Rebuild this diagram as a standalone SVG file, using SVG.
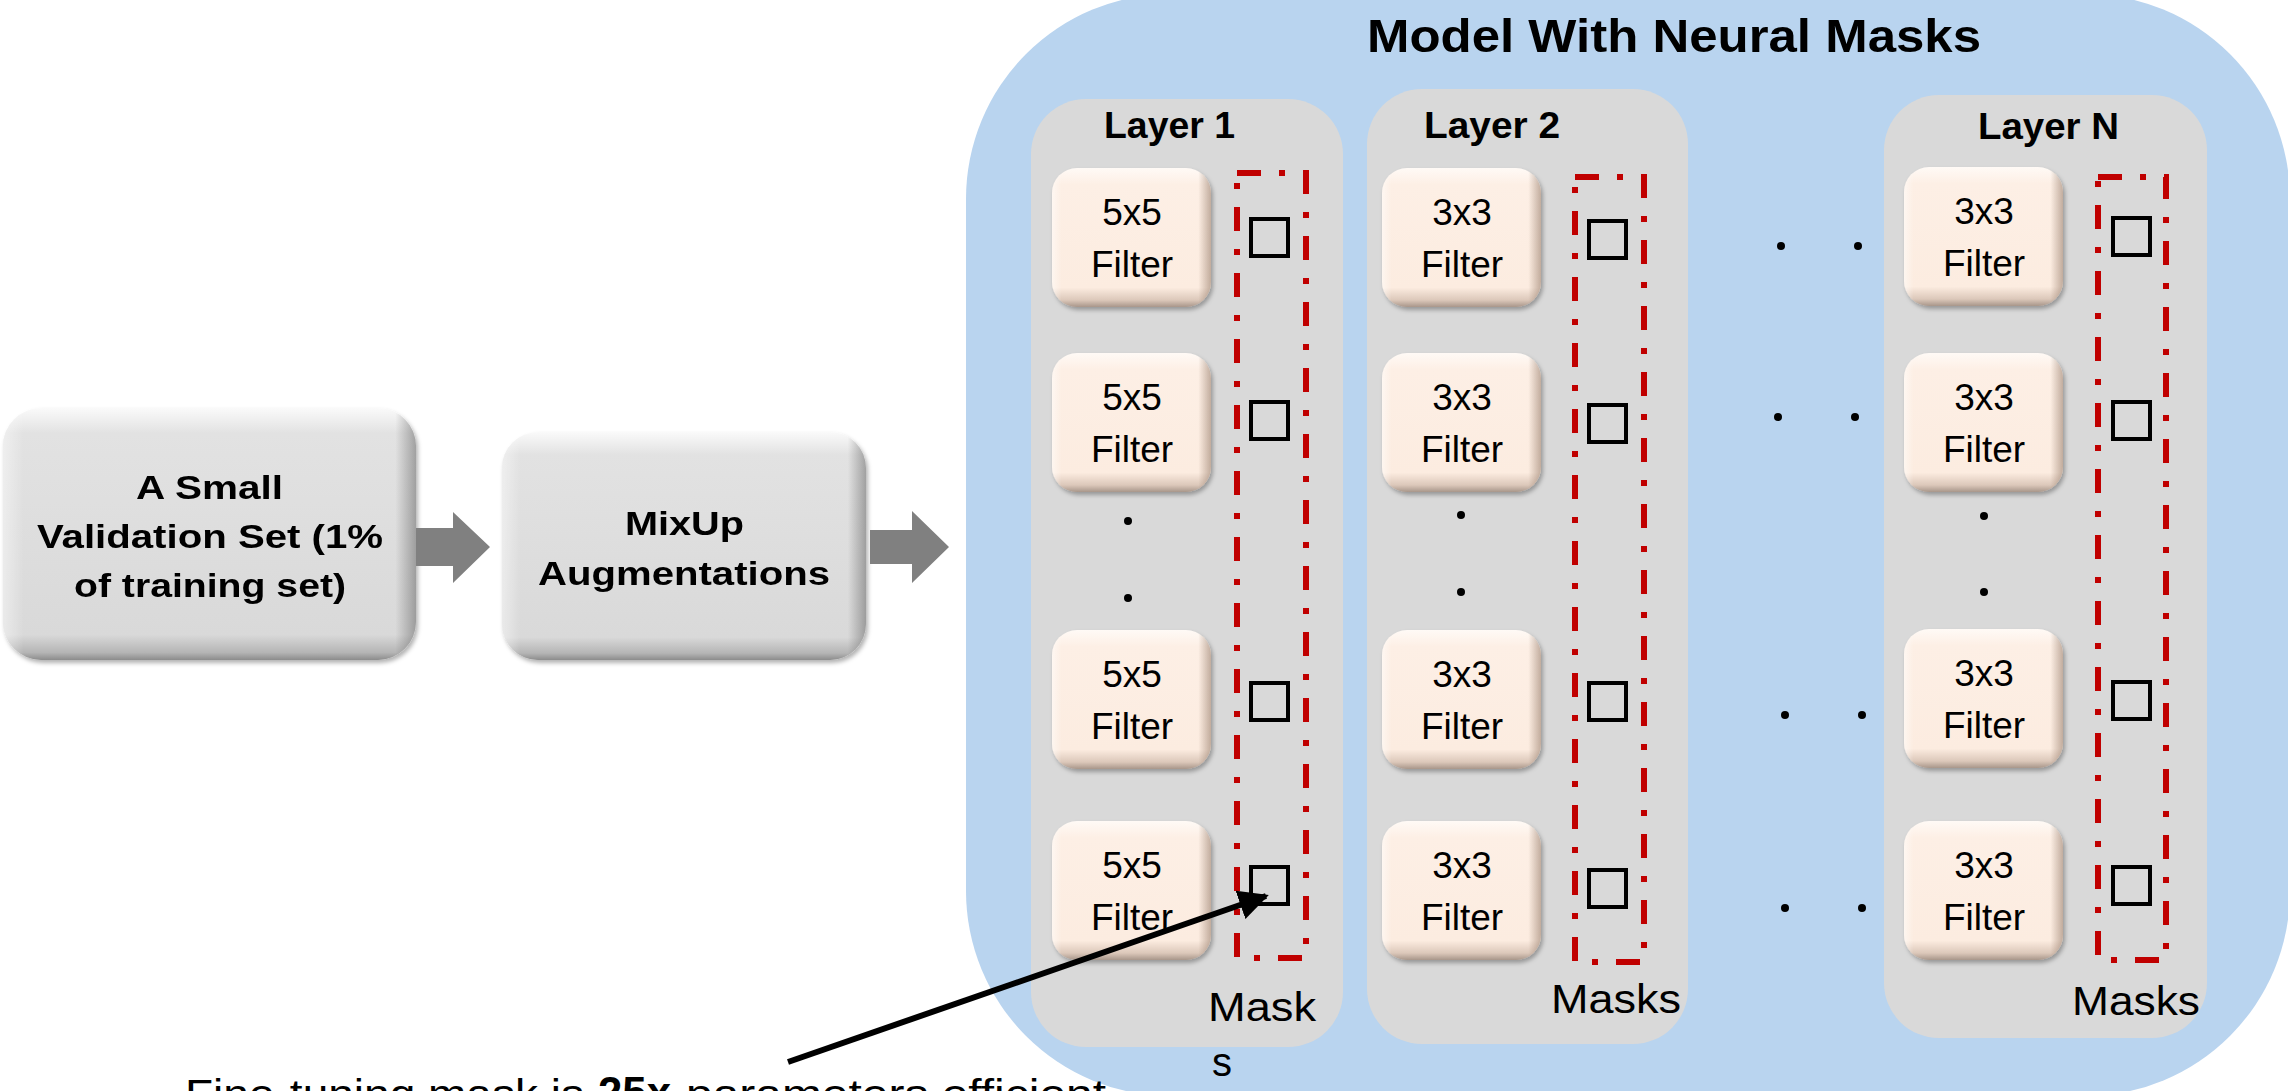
<svg xmlns="http://www.w3.org/2000/svg" width="2288" height="1091" viewBox="0 0 2288 1091">
  <style>
    .hdr { font-family: "Liberation Sans", Arial, sans-serif; font-weight: bold; fill: #000; }
    .lbl { font-family: "Liberation Sans", Arial, sans-serif; fill: #000; }
    .panel { fill: #d9d9d9; }
    .maskcol { fill: none; stroke: #c00000; stroke-width: 6; stroke-dasharray: 24 18 6 18; }
    .sq { fill: none; stroke: #000; stroke-width: 4; }
    .dot { fill: #000; }
    .flow { fill: #808080; }
  </style>
  <defs>
    <linearGradient id="peachV" x1="0" y1="0" x2="0" y2="1">
      <stop offset="0" stop-color="#fffaf6"/>
      <stop offset="0.12" stop-color="#fdefe5"/>
      <stop offset="0.86" stop-color="#fcece0"/>
      <stop offset="0.95" stop-color="#dcc8ba"/>
      <stop offset="1" stop-color="#a8968a"/>
    </linearGradient>
    <linearGradient id="peachH" x1="0" y1="0" x2="1" y2="0">
      <stop offset="0" stop-color="#ffffff" stop-opacity="0.5"/>
      <stop offset="0.06" stop-color="#ffffff" stop-opacity="0"/>
      <stop offset="0.92" stop-color="#7a5c48" stop-opacity="0"/>
      <stop offset="1" stop-color="#7a5c48" stop-opacity="0.45"/>
    </linearGradient>
    <linearGradient id="greyV" x1="0" y1="0" x2="0" y2="1">
      <stop offset="0" stop-color="#fafafa"/>
      <stop offset="0.1" stop-color="#e2e2e2"/>
      <stop offset="0.9" stop-color="#d9d9d9"/>
      <stop offset="0.97" stop-color="#b5b5b5"/>
      <stop offset="1" stop-color="#8c8c8c"/>
    </linearGradient>
    <linearGradient id="greyH" x1="0" y1="0" x2="1" y2="0">
      <stop offset="0" stop-color="#ffffff" stop-opacity="0.45"/>
      <stop offset="0.05" stop-color="#ffffff" stop-opacity="0"/>
      <stop offset="0.95" stop-color="#404040" stop-opacity="0"/>
      <stop offset="1" stop-color="#404040" stop-opacity="0.4"/>
    </linearGradient>
    <filter id="lift" x="-10%" y="-10%" width="125%" height="125%">
      <feDropShadow dx="2" dy="3" stdDeviation="2" flood-color="#000" flood-opacity="0.3"/>
    </filter>
    <marker id="tip" viewBox="0 0 10 10" refX="9" refY="5" markerWidth="5" markerHeight="5" orient="auto" markerUnits="strokeWidth">
      <path d="M0,0 L10,5 L0,10 z" fill="#000"/>
    </marker>
  </defs>

  <!-- model container -->
  <g id="model">
    <rect x="966" y="-6" width="1324" height="1102" rx="205" ry="205" fill="#b9d4ef"/>
    <text class="hdr" x="1367" y="52" font-size="46" textLength="614" lengthAdjust="spacingAndGlyphs">Model With Neural Masks</text>
  </g>

  <!-- input set -->
  <g id="validation-set" filter="url(#lift)">
    <rect x="3" y="408" width="413" height="252" rx="38" fill="url(#greyV)"/>
    <rect x="3" y="408" width="413" height="252" rx="38" fill="url(#greyH)"/>
    <text class="hdr" font-size="34" x="136" y="499" textLength="147" lengthAdjust="spacingAndGlyphs">A Small</text>
    <text class="hdr" font-size="34" x="37" y="548" textLength="346" lengthAdjust="spacingAndGlyphs">Validation Set (1%</text>
    <text class="hdr" font-size="34" x="74" y="597" textLength="272" lengthAdjust="spacingAndGlyphs">of training set)</text>
  </g>

  <g id="mixup" filter="url(#lift)">
    <rect x="502" y="432" width="364" height="228" rx="36" fill="url(#greyV)"/>
    <rect x="502" y="432" width="364" height="228" rx="36" fill="url(#greyH)"/>
    <text class="hdr" font-size="34" x="625" y="535" textLength="119" lengthAdjust="spacingAndGlyphs">MixUp</text>
    <text class="hdr" font-size="34" x="538" y="585" textLength="292" lengthAdjust="spacingAndGlyphs">Augmentations</text>
  </g>

  <!-- layer 1 -->
  <g id="layer-1">
    <rect class="panel" x="1031" y="99" width="312" height="948" rx="55" ry="55"/>
    <text class="hdr" x="1104" y="138" font-size="37" textLength="131" lengthAdjust="spacingAndGlyphs">Layer 1</text>
    <g filter="url(#lift)">
      <rect x="1052" y="168" width="159" height="139" rx="25" fill="url(#peachV)"/>
      <rect x="1052" y="168" width="159" height="139" rx="25" fill="url(#peachH)"/>
      <rect x="1052" y="353" width="159" height="139" rx="25" fill="url(#peachV)"/>
      <rect x="1052" y="353" width="159" height="139" rx="25" fill="url(#peachH)"/>
      <rect x="1052" y="630" width="159" height="139" rx="25" fill="url(#peachV)"/>
      <rect x="1052" y="630" width="159" height="139" rx="25" fill="url(#peachH)"/>
      <rect x="1052" y="821" width="159" height="139" rx="25" fill="url(#peachV)"/>
      <rect x="1052" y="821" width="159" height="139" rx="25" fill="url(#peachH)"/>
    </g>
    <g class="lbl" font-size="37" text-anchor="middle">
      <text x="1132" y="225">5x5</text><text x="1132" y="277">Filter</text>
      <text x="1132" y="410">5x5</text><text x="1132" y="462">Filter</text>
      <text x="1132" y="687">5x5</text><text x="1132" y="739">Filter</text>
      <text x="1132" y="878">5x5</text><text x="1132" y="930">Filter</text>
    </g>
    <circle class="dot" cx="1128" cy="521" r="4"/>
    <circle class="dot" cx="1128" cy="598" r="4"/>
    <rect class="maskcol" x="1237" y="173" width="69" height="785"/>
    <rect class="sq" x="1251" y="219" width="37" height="37"/>
    <rect class="sq" x="1251" y="402" width="37" height="37"/>
    <rect class="sq" x="1251" y="683" width="37" height="37"/>
    <rect class="sq" x="1251" y="867" width="37" height="37"/>
    <text class="lbl" x="1208" y="1021" font-size="40" textLength="108" lengthAdjust="spacingAndGlyphs">Mask</text>
    <text class="lbl" x="1212" y="1076" font-size="40">s</text>
  </g>

  <!-- layer 2 -->
  <g id="layer-2">
    <rect class="panel" x="1367" y="89" width="321" height="955" rx="55" ry="55"/>
    <text class="hdr" x="1424" y="138" font-size="37" textLength="136" lengthAdjust="spacingAndGlyphs">Layer 2</text>
    <g filter="url(#lift)">
      <rect x="1382" y="168" width="159" height="139" rx="25" fill="url(#peachV)"/>
      <rect x="1382" y="168" width="159" height="139" rx="25" fill="url(#peachH)"/>
      <rect x="1382" y="353" width="159" height="139" rx="25" fill="url(#peachV)"/>
      <rect x="1382" y="353" width="159" height="139" rx="25" fill="url(#peachH)"/>
      <rect x="1382" y="630" width="159" height="139" rx="25" fill="url(#peachV)"/>
      <rect x="1382" y="630" width="159" height="139" rx="25" fill="url(#peachH)"/>
      <rect x="1382" y="821" width="159" height="139" rx="25" fill="url(#peachV)"/>
      <rect x="1382" y="821" width="159" height="139" rx="25" fill="url(#peachH)"/>
    </g>
    <g class="lbl" font-size="37" text-anchor="middle">
      <text x="1462" y="225">3x3</text><text x="1462" y="277">Filter</text>
      <text x="1462" y="410">3x3</text><text x="1462" y="462">Filter</text>
      <text x="1462" y="687">3x3</text><text x="1462" y="739">Filter</text>
      <text x="1462" y="878">3x3</text><text x="1462" y="930">Filter</text>
    </g>
    <circle class="dot" cx="1461" cy="515" r="4"/>
    <circle class="dot" cx="1461" cy="592" r="4"/>
    <rect class="maskcol" x="1575" y="177" width="69" height="785"/>
    <rect class="sq" x="1589" y="221" width="37" height="37"/>
    <rect class="sq" x="1589" y="405" width="37" height="37"/>
    <rect class="sq" x="1589" y="683" width="37" height="37"/>
    <rect class="sq" x="1589" y="870" width="37" height="37"/>
    <text class="lbl" x="1551" y="1013" font-size="40" textLength="130" lengthAdjust="spacingAndGlyphs">Masks</text>
  </g>

  <!-- elided layers -->
  <g id="ellipsis">
    <circle class="dot" cx="1781" cy="246" r="4"/><circle class="dot" cx="1858" cy="246" r="4"/>
    <circle class="dot" cx="1778" cy="417" r="4"/><circle class="dot" cx="1855" cy="417" r="4"/>
    <circle class="dot" cx="1785" cy="715" r="4"/><circle class="dot" cx="1862" cy="715" r="4"/>
    <circle class="dot" cx="1785" cy="908" r="4"/><circle class="dot" cx="1862" cy="908" r="4"/>
  </g>

  <!-- layer N -->
  <g id="layer-n">
    <rect class="panel" x="1884" y="95" width="323" height="943" rx="55" ry="55"/>
    <text class="hdr" x="1978" y="139" font-size="37" textLength="141" lengthAdjust="spacingAndGlyphs">Layer N</text>
    <g filter="url(#lift)">
      <rect x="1904" y="167" width="159" height="139" rx="25" fill="url(#peachV)"/>
      <rect x="1904" y="167" width="159" height="139" rx="25" fill="url(#peachH)"/>
      <rect x="1904" y="353" width="159" height="139" rx="25" fill="url(#peachV)"/>
      <rect x="1904" y="353" width="159" height="139" rx="25" fill="url(#peachH)"/>
      <rect x="1904" y="629" width="159" height="139" rx="25" fill="url(#peachV)"/>
      <rect x="1904" y="629" width="159" height="139" rx="25" fill="url(#peachH)"/>
      <rect x="1904" y="821" width="159" height="139" rx="25" fill="url(#peachV)"/>
      <rect x="1904" y="821" width="159" height="139" rx="25" fill="url(#peachH)"/>
    </g>
    <g class="lbl" font-size="37" text-anchor="middle">
      <text x="1984" y="224">3x3</text><text x="1984" y="276">Filter</text>
      <text x="1984" y="410">3x3</text><text x="1984" y="462">Filter</text>
      <text x="1984" y="686">3x3</text><text x="1984" y="738">Filter</text>
      <text x="1984" y="878">3x3</text><text x="1984" y="930">Filter</text>
    </g>
    <circle class="dot" cx="1984" cy="516" r="4"/>
    <circle class="dot" cx="1984" cy="592" r="4"/>
    <rect class="maskcol" x="2098" y="177" width="68" height="783"/>
    <rect class="sq" x="2113" y="218" width="37" height="37"/>
    <rect class="sq" x="2113" y="402" width="37" height="37"/>
    <rect class="sq" x="2113" y="682" width="37" height="37"/>
    <rect class="sq" x="2113" y="867" width="37" height="37"/>
    <text class="lbl" x="2072" y="1015" font-size="40" textLength="128" lengthAdjust="spacingAndGlyphs">Masks</text>
  </g>

  <!-- caption -->
  <g id="caption">
    <text class="lbl" y="1108" font-size="40">
      <tspan x="185" textLength="399" lengthAdjust="spacingAndGlyphs">Fine-tuning mask is</tspan>
      <tspan x="598" font-weight="bold" font-size="44" textLength="73" lengthAdjust="spacingAndGlyphs">25x</tspan>
      <tspan x="686" textLength="420" lengthAdjust="spacingAndGlyphs">parameters efficient</tspan>
    </text>
  </g>

  <!-- connectors -->
  <g id="connectors">
    <path class="flow" d="M416,528 H453 V512 L490,547 L453,583 V566 H416 Z"/>
    <path class="flow" d="M870,530 H912 V511 L949,547 L912,583 V564 H870 Z"/>
    <line x1="788" y1="1062" x2="1266" y2="896" stroke="#000" stroke-width="6" marker-end="url(#tip)"/>
  </g>
</svg>
